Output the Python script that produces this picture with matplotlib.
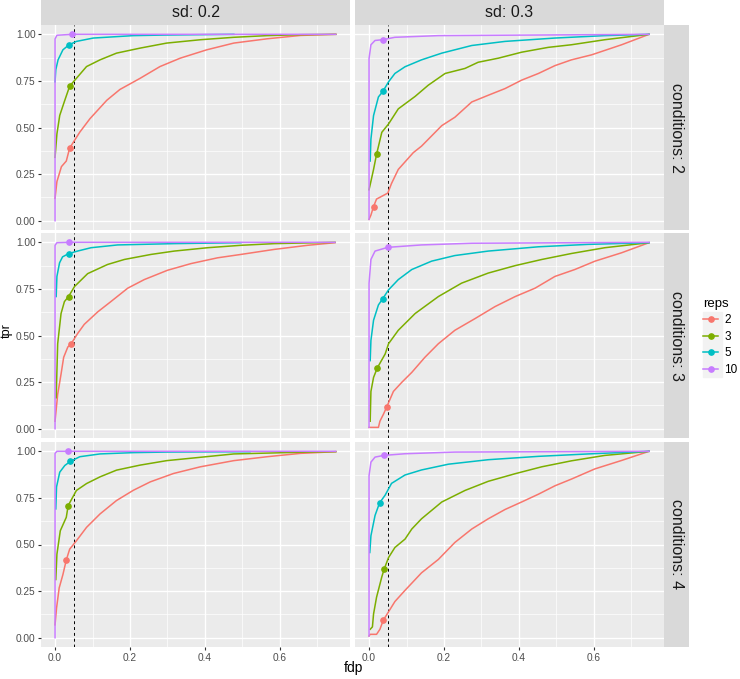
import matplotlib.pyplot as plt
from matplotlib.lines import Line2D
from matplotlib.patches import Rectangle

# facet levels and legend
sd_levels = ["0.2", "0.3"]
cond_levels = ["2", "3", "4"]
reps = ["2", "3", "5", "10"]
colors = ["#F8766D", "#7CAE00", "#00BFC4", "#C77CFF"]
fdp_cut = 0.05

# ---- conditions 2, sd 0.2 ----
c2_sd02_r2_x = [0, 0.005, 0.017, 0.03, 0.039, 0.066, 0.093, 0.138, 0.173, 0.227, 0.28, 0.334, 0.405, 0.477, 0.566, 0.655, 0.749]
c2_sd02_r2_y = [0.12, 0.21, 0.29, 0.32, 0.39, 0.475, 0.547, 0.646, 0.704, 0.764, 0.827, 0.872, 0.917, 0.953, 0.976, 0.994, 1.0]
c2_sd02_r3_x = [0, 0.005, 0.0125, 0.026, 0.039, 0.057, 0.084, 0.12, 0.164, 0.227, 0.298, 0.388, 0.477, 0.566, 0.655, 0.749]
c2_sd02_r3_y = [0.34, 0.466, 0.565, 0.646, 0.722, 0.764, 0.827, 0.863, 0.899, 0.926, 0.953, 0.971, 0.984, 0.993, 0.998, 1.0]
c2_sd02_r5_x = [0, 0.002, 0.008, 0.021, 0.0375, 0.057, 0.102, 0.209, 0.29, 0.477]
c2_sd02_r5_y = [0.745, 0.81, 0.863, 0.917, 0.944, 0.962, 0.98, 0.993, 0.996, 1.0]
c2_sd02_r10_x = [0, 0, 0.005, 0.046, 0.749]
c2_sd02_r10_y = [0, 0.975, 0.995, 1.0, 1.0]
c2_sd02_dot_x = [0.039, 0.039, 0.0375, 0.046]
c2_sd02_dot_y = [0.388, 0.722, 0.944, 1.0]

# ---- conditions 2, sd 0.3 ----
c2_sd03_r2_x = [0, 0.005, 0.012, 0.02, 0.05, 0.06, 0.078, 0.118, 0.14, 0.194, 0.229, 0.274, 0.318, 0.363, 0.407, 0.452, 0.496, 0.54, 0.594, 0.674, 0.747]
c2_sd03_r2_y = [0.007, 0.03, 0.076, 0.116, 0.148, 0.2, 0.275, 0.365, 0.4, 0.51, 0.555, 0.637, 0.673, 0.709, 0.754, 0.79, 0.832, 0.863, 0.89, 0.944, 1.0]
c2_sd03_r3_x = [0, 0.012, 0.02, 0.034, 0.052, 0.078, 0.123, 0.158, 0.203, 0.256, 0.291, 0.345, 0.407, 0.478, 0.54, 0.629, 0.747]
c2_sd03_r3_y = [0.166, 0.275, 0.356, 0.474, 0.519, 0.6, 0.667, 0.727, 0.79, 0.817, 0.85, 0.872, 0.904, 0.93, 0.944, 0.971, 1.0]
c2_sd03_r5_x = [0.003, 0.005, 0.012, 0.025, 0.037, 0.052, 0.069, 0.096, 0.14, 0.194, 0.274, 0.363, 0.496, 0.629, 0.747]
c2_sd03_r5_y = [0.32, 0.438, 0.564, 0.664, 0.694, 0.745, 0.79, 0.826, 0.863, 0.899, 0.94, 0.962, 0.98, 0.993, 1.0]
c2_sd03_r10_x = [0, 0, 0.005, 0.016, 0.036, 0.069, 0.185, 0.747]
c2_sd03_r10_y = [0.007, 0.87, 0.944, 0.967, 0.971, 0.984, 0.993, 1.0]
c2_sd03_dot_x = [0.012, 0.02, 0.037, 0.036]
c2_sd03_dot_y = [0.076, 0.356, 0.694, 0.971]

# ---- conditions 3, sd 0.2 ----
c3_sd02_r2_x = [0, 0.007, 0.016, 0.023, 0.034, 0.043, 0.06, 0.078, 0.114, 0.149, 0.194, 0.238, 0.3, 0.363, 0.434, 0.496, 0.585, 0.674, 0.747]
c3_sd02_r2_y = [0.04, 0.184, 0.293, 0.383, 0.438, 0.456, 0.51, 0.56, 0.627, 0.682, 0.754, 0.8, 0.85, 0.886, 0.917, 0.935, 0.962, 0.984, 0.998]
c3_sd02_r3_x = [0.003, 0.007, 0.016, 0.025, 0.036, 0.052, 0.087, 0.14, 0.185, 0.256, 0.318, 0.407, 0.496, 0.585, 0.747]
c3_sd02_r3_y = [0.166, 0.456, 0.618, 0.682, 0.709, 0.763, 0.832, 0.881, 0.908, 0.935, 0.953, 0.971, 0.984, 0.993, 1.0]
c3_sd02_r5_x = [0.003, 0.005, 0.012, 0.02, 0.036, 0.06, 0.096, 0.167, 0.318, 0.496]
c3_sd02_r5_y = [0.709, 0.817, 0.89, 0.922, 0.939, 0.953, 0.971, 0.986, 0.993, 0.998]
c3_sd02_r10_x = [0, 0, 0.005, 0.038, 0.747]
c3_sd02_r10_y = [0, 0.984, 0.998, 1.0, 1.0]
c3_sd02_dot_x = [0.043, 0.036, 0.036, 0.038]
c3_sd02_dot_y = [0.456, 0.709, 0.939, 1.0]

# ---- conditions 3, sd 0.3 ----
c3_sd03_r2_x = [0, 0.025, 0.029, 0.038, 0.047, 0.065, 0.087, 0.114, 0.149, 0.185, 0.229, 0.283, 0.336, 0.39, 0.443, 0.496, 0.549, 0.603, 0.674, 0.747]
c3_sd03_r2_y = [0.007, 0.007, 0.04, 0.076, 0.116, 0.2, 0.248, 0.302, 0.383, 0.456, 0.528, 0.591, 0.655, 0.709, 0.754, 0.817, 0.854, 0.899, 0.944, 0.998]
c3_sd03_r3_x = [0.003, 0.005, 0.012, 0.022, 0.043, 0.052, 0.078, 0.123, 0.185, 0.247, 0.318, 0.39, 0.461, 0.54, 0.629, 0.747]
c3_sd03_r3_y = [0.04, 0.2, 0.275, 0.326, 0.401, 0.456, 0.528, 0.618, 0.709, 0.781, 0.835, 0.875, 0.908, 0.94, 0.971, 0.998]
c3_sd03_r5_x = [0.003, 0.005, 0.012, 0.025, 0.036, 0.052, 0.078, 0.114, 0.167, 0.229, 0.318, 0.452, 0.585, 0.747]
c3_sd03_r5_y = [0.365, 0.474, 0.582, 0.664, 0.696, 0.745, 0.8, 0.854, 0.899, 0.929, 0.953, 0.976, 0.989, 0.998]
c3_sd03_r10_x = [0, 0, 0.005, 0.016, 0.05, 0.14, 0.274, 0.747]
c3_sd03_r10_y = [0.007, 0.78, 0.908, 0.953, 0.973, 0.986, 0.995, 1.0]
c3_sd03_dot_x = [0.047, 0.022, 0.036, 0.05]
c3_sd03_dot_y = [0.116, 0.326, 0.696, 0.973]

# ---- conditions 4, sd 0.2 ----
c4_sd02_r2_x = [0, 0.004, 0.011, 0.021, 0.03, 0.039, 0.057, 0.084, 0.12, 0.164, 0.209, 0.254, 0.316, 0.388, 0.477, 0.566, 0.655, 0.749]
c4_sd02_r2_y = [0.069, 0.159, 0.267, 0.339, 0.417, 0.475, 0.52, 0.592, 0.664, 0.736, 0.791, 0.836, 0.881, 0.917, 0.95, 0.971, 0.989, 0.998]
c4_sd02_r3_x = [0.002, 0.005, 0.014, 0.03, 0.035, 0.057, 0.084, 0.12, 0.164, 0.227, 0.298, 0.388, 0.477, 0.655, 0.749]
c4_sd02_r3_y = [0.312, 0.448, 0.574, 0.646, 0.709, 0.79, 0.827, 0.863, 0.899, 0.926, 0.95, 0.968, 0.986, 0.995, 0.998]
c4_sd02_r5_x = [0.002, 0.004, 0.0125, 0.026, 0.041, 0.066, 0.12, 0.209, 0.298, 0.52]
c4_sd02_r5_y = [0.691, 0.809, 0.888, 0.924, 0.946, 0.971, 0.986, 0.993, 0.996, 0.998]
c4_sd02_r10_x = [0, 0, 0.005, 0.035, 0.749]
c4_sd02_r10_y = [0, 0.989, 1.0, 1.0, 1.0]
c4_sd02_dot_x = [0.03, 0.035, 0.041, 0.035]
c4_sd02_dot_y = [0.417, 0.709, 0.946, 1.0]

# ---- conditions 4, sd 0.3 ----
c4_sd03_r2_x = [0, 0.003, 0.02, 0.029, 0.038, 0.052, 0.069, 0.096, 0.14, 0.185, 0.229, 0.274, 0.318, 0.363, 0.407, 0.452, 0.496, 0.54, 0.603, 0.674, 0.747]
c4_sd03_r2_y = [0.009, 0.018, 0.018, 0.045, 0.094, 0.139, 0.194, 0.254, 0.348, 0.42, 0.511, 0.583, 0.638, 0.688, 0.728, 0.77, 0.815, 0.851, 0.906, 0.951, 1.0]
c4_sd03_r3_x = [0.003, 0.009, 0.012, 0.02, 0.034, 0.04, 0.052, 0.069, 0.096, 0.114, 0.14, 0.194, 0.256, 0.318, 0.39, 0.461, 0.54, 0.629, 0.747]
c4_sd03_r3_y = [0.045, 0.058, 0.127, 0.217, 0.326, 0.366, 0.43, 0.484, 0.529, 0.583, 0.638, 0.728, 0.79, 0.839, 0.88, 0.917, 0.949, 0.978, 1.0]
c4_sd03_r5_x = [0.002, 0.005, 0.016, 0.028, 0.043, 0.06, 0.096, 0.14, 0.212, 0.318, 0.452, 0.585, 0.747]
c4_sd03_r5_y = [0.457, 0.547, 0.656, 0.723, 0.765, 0.828, 0.873, 0.9, 0.931, 0.955, 0.973, 0.986, 1.0]
c4_sd03_r10_x = [0, 0, 0.005, 0.016, 0.039, 0.096, 0.229, 0.747]
c4_sd03_r10_y = [0.009, 0.87, 0.942, 0.969, 0.978, 0.987, 0.996, 1.0]
c4_sd03_dot_x = [0.038, 0.04, 0.028, 0.039]
c4_sd03_dot_y = [0.094, 0.366, 0.723, 0.978]

g = globals()

W, H = 740, 679
fig = plt.figure(figsize=(W / 100, H / 100), dpi=100)
plt.rcParams['font.family'] = ['Liberation Sans', 'DejaVu Sans']

col_x = [41, 355]
pw = 309
row_y = [25, 233, 442]
ph = 205


def fig_box(x, y, w, h):
    return [x / W, 1 - (y + h) / H, w / W, h / H]


for i, cond in enumerate(cond_levels):
    for j, sd in enumerate(sd_levels):
        ax = fig.add_axes(fig_box(col_x[j], row_y[i], pw, ph))
        ax.set_facecolor("#EBEBEB")
        for s in ax.spines.values():
            s.set_visible(False)
        ax.set_xlim(-0.0375, 0.787)
        ax.set_ylim(-0.05, 1.05)
        ax.set_xticks([0, 0.2, 0.4, 0.6])
        ax.set_xticks([0.1, 0.3, 0.5, 0.7], minor=True)
        ax.set_yticks([0, 0.25, 0.5, 0.75, 1.0])
        ax.set_yticks([0.125, 0.375, 0.625, 0.875], minor=True)
        ax.grid(True, which="major", color="white", lw=1.0)
        ax.grid(True, which="minor", color="white", lw=0.5)
        ax.set_axisbelow(True)
        ax.tick_params(which="minor", length=0)
        ax.tick_params(which="major", length=2.5, color="#333333", width=0.8,
                       labelsize=7.3, labelcolor="#4D4D4D", pad=1.5)
        if i == 2:
            ax.set_xticklabels(["0.0", "0.2", "0.4", "0.6"])
        else:
            ax.tick_params(axis="x", length=0, labelbottom=False)
        if j == 0:
            ax.set_yticklabels(["0.00", "0.25", "0.50", "0.75", "1.00"])
        else:
            ax.tick_params(axis="y", length=0, labelleft=False)

        ax.axvline(fdp_cut, color="black", ls=(0, (3, 3)), lw=0.7, zorder=1)

        key = "c%s_sd%s" % (cond, sd.replace(".", ""))
        for k, r in enumerate(reps):
            xs = g["%s_r%s_x" % (key, r)]
            ys = g["%s_r%s_y" % (key, r)]
            ax.plot(xs, ys, color=colors[k], lw=1.1, zorder=3)
        dx = g[key + "_dot_x"]
        dy = g[key + "_dot_y"]
        for k in range(len(reps)):
            ax.plot(dx[k], dy[k], "o", color=colors[k], ms=3.8, zorder=4)

        # strips
        if i == 0:
            sax = fig.add_axes(fig_box(col_x[j], 0, pw, 25))
            sax.set_facecolor("#D9D9D9")
            sax.set_xticks([])
            sax.set_yticks([])
            for s in sax.spines.values():
                s.set_visible(False)
            sax.text(0.5, 0.5, "sd: " + sd, ha="center", va="center",
                     fontsize=11.5, color="#1A1A1A", transform=sax.transAxes)
        if j == 1:
            sax = fig.add_axes(fig_box(664, row_y[i], 25, ph))
            sax.set_facecolor("#D9D9D9")
            sax.set_xticks([])
            sax.set_yticks([])
            for s in sax.spines.values():
                s.set_visible(False)
            sax.text(0.5, 0.5, "conditions: " + cond, ha="center", va="center",
                     rotation=-90, fontsize=11.5, color="#1A1A1A",
                     transform=sax.transAxes)

fig.text(353 / W, 1 - 668 / H, "fdp", ha="center", va="center", fontsize=10)
fig.text(7 / W, 1 - 331 / H, "tpr", ha="center", va="center", rotation=90, fontsize=9)

# legend key background
fig.patches.append(Rectangle((703 / W, 1 - 377 / H), 19 / W, 65 / H,
                             transform=fig.transFigure, color="#F2F2F2", zorder=0))
handles = [Line2D([0], [0], color=c, lw=1.1, marker="o", ms=3.8) for c in colors]
leg = fig.legend(handles, reps, title="reps", loc="upper left",
                 bbox_to_anchor=(703 / W, 1 - 298 / H), frameon=False,
                 fontsize=8.5, title_fontsize=9.5, handlelength=1.3,
                 labelspacing=0.38, alignment="left", handletextpad=0.5,
                 borderpad=0, borderaxespad=0)

plt.savefig("out.png", dpi=100)
